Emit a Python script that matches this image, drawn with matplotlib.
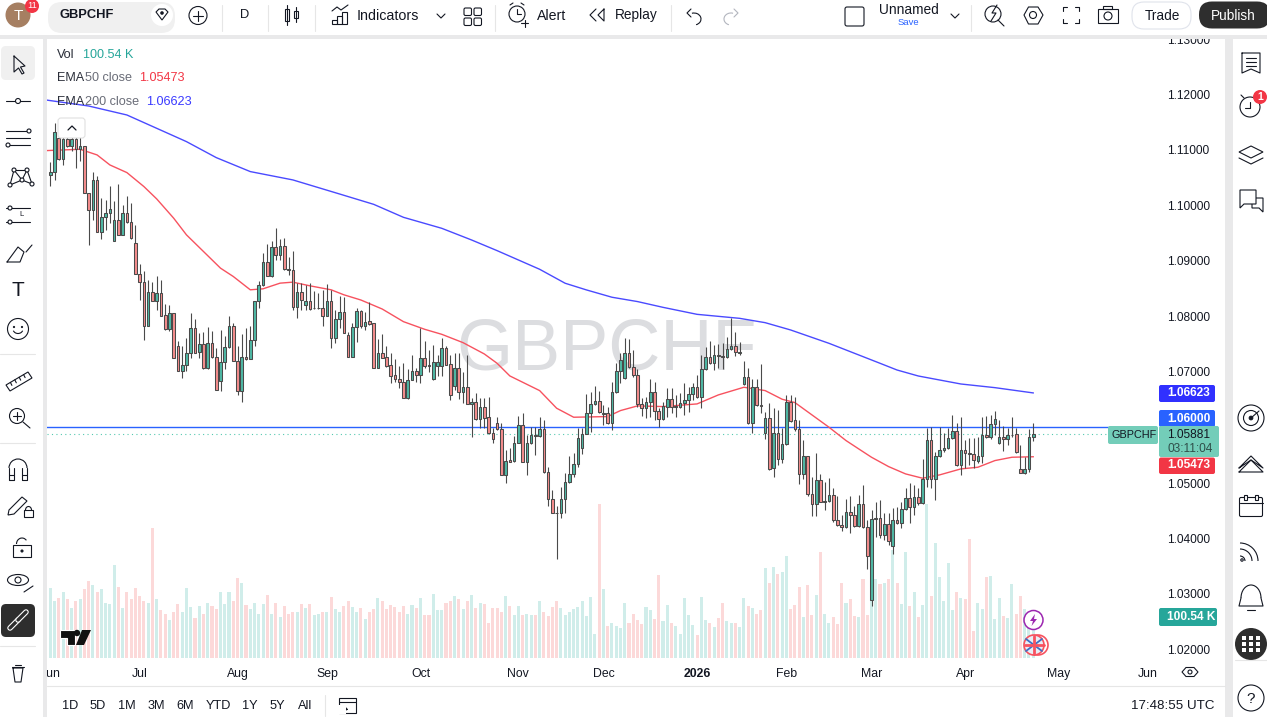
import numpy as np
import matplotlib
matplotlib.use("Agg")
import matplotlib.pyplot as plt
from matplotlib.patches import Rectangle, Circle, FancyBboxPatch, Polygon, Ellipse, Arc

# ---- data: prices are stored as points above 1.00000 (1 point = 0.00001)
highs = [10791,11481,11541,11541,11511,11481,11451,11421,11079,10221,
 10599,10533,10131,10101,10353,10089,10383,10011,10167,10041,
 9651,8949,8817,8661,8613,8721,8661,8229,8211,8061,
 7551,7461,7611,8061,7953,7701,7719,7809,7731,7431,
 7761,7641,8013,7881,7461,7689,7791,7821,8277,8631,
 9141,9309,9369,9591,9393,9411,9069,9177,8601,8601,
 8571,8601,8451,8421,8481,8583,8481,8121,8373,8349,
 7727,7889,8147,8117,8087,8267,7877,7589,7685,7469,
 7349,7229,7109,7157,7049,7307,7067,7787,7559,7397,
 7487,7307,7607,7469,7307,7337,7337,7007,7307,6527,
 6617,6527,6527,6545,5987,6197,6077,5597,5627,5849,
 6209,6257,5867,6017,6017,6185,6137,5285,4877,4577,
 4925,5177,5489,5537,5987,5987,6599,6635,6749,6665,
 6407,6377,6827,7157,7337,7607,7589,7397,7055,6527,
 6557,6869,6827,6347,6467,6707,6707,6587,6617,6797,
 6725,6797,6947,7307,7445,7565,7487,7499,7517,7625,
 7967,7727,7535,7199,7067,6869,6869,7145,6287,6437,
 6347,6317,5987,6587,6587,6545,6137,5777,5489,5117,
 5537,5165,5027,5099,4907,4769,4427,4709,4757,4577,
 4787,4967,4337,4516,4666,4696,4456,4456,4546,4564,
 4666,4906,4996,4966,4906,5428,5986,6004,5566,6004,
 5896,5986,6226,6076,6196,5776,5806,5806,5824,6196,
 6208,6226,6298,6136,6028,5986,6184,5986,5686,5464,
 5968,6076]
lows = [10353,10461,10821,10731,11049,10989,10683,10809,10221,9291,
 9741,9519,9405,9561,9681,9357,9465,9465,9681,9393,
 8763,8289,7569,7827,8271,8121,8001,7749,7731,7251,
 7011,6891,7011,7251,7341,7251,7053,7053,7257,6675,
 6651,7053,7431,7197,6585,6459,7221,7233,7461,8151,
 8541,8727,8703,9021,9021,8841,8751,8121,7971,8121,
 8121,8121,8133,8139,7821,8001,7431,7521,7791,7701,
 7277,7277,7547,7787,7757,7847,7079,7079,7247,7097,
 6797,6827,6707,6539,6515,6851,6827,6797,7079,7007,
 6857,6929,6929,7127,6497,6677,6515,6437,6419,5825,
 6137,5987,5987,5885,5729,5957,5141,5009,5381,5381,
 5729,5375,5147,5705,5507,5825,5189,4577,4457,3629,
 4367,4457,4997,5117,5297,5525,5879,5927,6407,6257,
 6047,6059,5957,6617,6797,6875,7067,6905,6365,6209,
 6167,6197,6137,6017,6137,6197,6257,6197,6347,6227,
 6287,6497,6539,6347,7037,7145,7037,7067,7049,7247,
 7397,7295,7307,6767,6065,5897,6389,6257,5789,5237,
 5117,5327,5357,5687,6107,5945,4979,5069,4757,4397,
 4397,4655,4517,4655,4289,4229,4127,4187,4097,4205,
 4205,4187,3449,2776,4036,4006,3976,3886,3718,4264,
 4198,4516,4276,4426,4606,4624,4936,4906,4696,5464,
 5566,5608,5788,5308,5140,5266,5326,5266,5356,5368,
 5806,5800,5866,5704,5578,5686,5836,5548,5176,5164,
 5206,5764]
body_tops = [10599,11319,11223,11193,11193,11193,11193,11079,11079,10221,
 10455,10455,9789,9861,9933,9735,9735,9861,9861,9699,
 9321,8763,8619,8445,8445,8427,8427,8025,8061,8061,
 7467,7125,7341,7791,7791,7503,7503,7521,7521,7269,
 7179,7449,7827,7827,7197,7269,7269,7575,8277,8565,
 8979,8979,9249,9249,9267,9267,8853,8835,8445,8445,
 8283,8277,8157,8157,8151,8277,8277,7953,8079,8079,
 7667,7817,8093,8093,7907,7913,7877,7337,7337,7265,
 7127,6941,6881,6827,6857,7013,7013,7247,7247,7127,
 7175,7175,7427,7427,7139,7067,7067,6725,6725,6455,
 6455,6377,6377,6185,5897,6077,5969,5405,5411,5729,
 6041,6041,5717,5861,5867,5981,5981,5207,4709,4463,
 4709,5015,5159,5339,5807,5879,6257,6419,6473,6473,
 6263,6257,6635,7013,7211,7337,7337,7085,6941,6419,
 6455,6635,6635,6293,6383,6509,6509,6383,6437,6491,
 6599,6725,6725,7049,7265,7265,7301,7301,7289,7409,
 7463,7463,7361,6905,6905,6725,6725,6401,6167,6167,
 5897,5897,5699,6455,6455,6131,5969,5483,5483,4799,
 5051,5051,4673,4781,4781,4331,4241,4475,4475,4421,
 4619,4619,4205,4348,4366,4366,4258,4258,4330,4330,
 4528,4726,4726,4744,4744,5068,5770,5770,5482,5590,
 5626,5806,5932,5932,5590,5590,5536,5518,5482,5860,
 5860,6058,6148,5824,5824,5860,5872,5878,5248,5248,
 5824,5878]
body_bottoms = [10557,10599,10833,10833,11079,11079,11019,11019,10221,9915,
 9915,9519,9519,9789,9861,9357,9465,9465,9699,9411,
 8763,8619,7827,7827,8271,8271,8013,7773,7773,7251,
 7017,7017,7125,7341,7341,7359,7071,7071,7269,6675,
 6837,7179,7449,7197,6657,6657,7233,7233,7575,8277,
 8565,8727,8727,9105,9105,8853,8835,8169,8169,8289,
 8205,8133,8145,8145,8001,8001,7611,7611,7953,7701,
 7277,7277,7817,7835,7835,7871,7079,7079,7259,7115,
 6935,6881,6827,6539,6539,6851,6953,6953,7115,7115,
 6869,7115,7115,7133,6593,6755,6647,6647,6419,6419,
 6161,6161,6179,5897,5789,5969,5141,5141,5387,5393,
 5729,5375,5375,5717,5849,5843,5207,4709,4457,4451,
 4457,4709,5015,5159,5339,5627,5879,6257,6419,6275,
 6251,6089,6089,6635,7013,6887,7085,6941,6419,6347,
 6347,6455,6293,6149,6149,6365,6365,6371,6377,6437,
 6491,6599,6557,6557,7049,7157,7157,7283,7277,7265,
 7409,7355,7349,6779,6089,6089,6401,6383,5897,5255,
 5267,5429,5429,5699,6125,5969,5159,5159,4799,4619,
 4619,4655,4655,4673,4325,4235,4205,4205,4421,4223,
 4223,4205,3683,2896,4354,4060,4060,3952,3862,4288,
 4288,4528,4564,4564,4636,4636,5068,5068,5068,5482,
 5590,5626,5806,5320,5320,5536,5524,5410,5392,5482,
 5824,5824,6058,5716,5788,5788,5860,5560,5176,5176,
 5248,5824]
directions = ("UUDUDUDUDD" "UDUUUUDUDD" "DDDUDUDDUD" "DUUUDUDUDD" "UUUDDUDUUU"
 "UDUDUDDDUD" "UDUUDUDUUD" "DUUDUDDUDD" "DDDDUUDUDD" "UUUDDUDUDU"
 "DUDDDDDUDU" "UDUUDUDDDD" "UUUUUUUUUD" "UDUUUUDDDD" "UUDDUUDUUU"
 "UUDUUDUDDU" "UDUUDUDDUD" "UDUUDDDUDD" "UDUUDDDUDD" "UDDUUDUDUD"
 "UUDUDUUDUU" "UUUDUDDDUU" "DUUUDUUDDU" "UU")
volumes_k = [172,141,148,163,144,123,139,144,168,190,
 178,161,168,136,132,227,173,123,161,144,
 171,151,139,136,318,144,117,109,92,112,
 132,114,171,124,97,127,107,134,127,119,
 163,132,163,139,195,183,129,119,136,109,
 132,154,109,134,100,127,107,114,114,132,
 122,132,105,109,112,114,149,119,114,127,
 141,124,114,122,95,112,119,146,141,119,
 129,124,114,127,107,129,122,146,105,105,
 158,117,117,134,141,151,144,119,139,154,
 122,136,132,87,122,122,112,151,127,105,
 127,105,107,105,105,141,112,102,124,141,
 122,105,112,119,124,139,102,149,60,378,
 168,78,85,78,73,136,85,107,92,83,
 124,117,95,203,90,129,85,78,60,146,
 105,80,56,149,92,85,75,97,136,90,
 87,87,75,146,127,122,109,117,220,183,
 222,205,212,249,119,129,173,100,178,105,
 154,259,109,87,100,83,185,136,144,102,
 100,193,105,223,193,181,183,193,264,183,
 132,259,127,161,100,129,378,151,283,198,
 141,232,117,161,146,144,291,65,134,119,
 198,200,95,146,102,97,181,109,151,119,
 109,100.54]
ema50_idx = [-1,7,11,14,18,22,25,29,32,36,40,43,47,50,54,57,61,66,69,73,78,83,88,92,97,102,105,108,115,119,123,
 131,134,138,144,152,157,163,168,172,175,179,183,187,190,193,197,201,205,209,214,218,222,226,231]
ema50_pts = [10989,11013,10911,10731,10593,10341,10119,9771,9471,9171,8871,8721,8481,8499,8601,8619,8553,8481,8391,8297,8135,7907,7769,7679,7529,7325,7157,6929,6665,6347,6185,
 6197,6305,6389,6377,6425,6587,6725,6665,6509,6449,6227,6005,5765,5614,5464,5296,5164,5086,5146,5254,5284,5404,5464,5473]
ema200_idx = [-1,9,18,25,32,39,47,57,68,76,83,92,99,105,115,121,126,132,138,144,152,162,168,174,183,195,199,204,214,222,231]
ema200_pts = [11901,11793,11631,11391,11151,10863,10611,10461,10207,10021,9787,9589,9379,9187,8851,8599,8479,8347,8269,8165,8039,7967,7889,7757,7517,7157,7036,6928,6784,6718,6623]
price_ticks = [1.13,1.12,1.11,1.10,1.09,1.08,1.07,1.05,1.04,1.03,1.02]
month_ticks = [0,21,44,65,87,110,130,152,173,193,215,237,258]
month_labels = ["Jun","Jul","Aug","Sep","Oct","Nov","Dec","2026","Feb","Mar","Apr","May","Jun"]
level_price = 1.06
last_price = 1.05881
range_buttons = ["1D","5D","1M","3M","6M","YTD","1Y","5Y","All"]

FONT = ["Liberation Sans", "DejaVu Sans"]
plt.rcParams["font.family"] = FONT
W, H = 1267, 717
DARK = "#131722"
fig = plt.figure(figsize=(W/100, H/100), dpi=100, facecolor="white")

def rect(x0, y0, x1, y1):
    return [x0/W, 1-y1/H, (x1-x0)/W, (y1-y0)/H]

L, R, T, B = 47, 1160, 38, 658
xlim = ((L-50.3)/4.255, (R-50.3)/4.255)
price = lambda pts: 1 + np.asarray(pts, float)/1e5
ylim = (1.13-(B-39)/5550, 1.13-(T-39)/5550)

# volume pane sits behind the price pane
axv = fig.add_axes(rect(L, T, R, B), zorder=0.5)
axv.set_xlim(xlim)
axv.set_ylim(0, (B-T)/(41/100.54))
axv.set_xticks([]); axv.set_yticks([])
for s in axv.spines.values():
    s.set_visible(False)

ax = fig.add_axes(rect(L, T, R, B), zorder=1)
ax.patch.set_visible(False)
ax.set_xlim(xlim); ax.set_ylim(ylim)
for s in ax.spines.values():
    s.set_visible(False)
ax.yaxis.tick_right()
ax.set_yticks(price_ticks)
ax.set_yticklabels([f"{p:.5f}" for p in price_ticks], fontsize=8.6, color=DARK)
ax.tick_params(axis="y", length=0, pad=5)
ax.set_xticks(month_ticks)
ax.set_xticklabels(month_labels, fontsize=8.8, color=DARK)
ax.tick_params(axis="x", length=0, pad=7)
ax.get_xticklabels()[7].set_fontweight("bold")

axv.text(0.503, 0.495, "GBPCHF", transform=axv.transAxes, ha="center", va="center",
         fontsize=52, color="#dcdde0", zorder=0)

idx = np.arange(len(highs))
up = np.array([d == "U" for d in directions])
axv.bar(idx, volumes_k, width=0.72, linewidth=0,
        color=np.where(up, "#d0edea", "#fcd9d9"))

ax.plot([xlim[0], (1108-50.3)/4.255], [level_price]*2, color="#2962ff", lw=1.0, zorder=2, snap=True)
ax.plot([xlim[0], (1108-50.3)/4.255], [last_price]*2, color="#55c9b0", lw=0.8,
        ls=(0, (1, 3)), zorder=2)
ax.plot(ema200_idx, price(ema200_pts), color="#4a4aff", lw=1.0, zorder=3)
ax.plot(ema50_idx, price(ema50_pts), color="#f7525f", lw=1.0, zorder=3)
ax.vlines(idx, price(lows), price(highs), color="#4a4a4a", lw=0.8, zorder=4)
ax.bar(idx, price(body_tops)-price(body_bottoms), bottom=price(body_bottoms), width=0.62,
       color=np.where(up, "#4fb8a4", "#f58d8d"), edgecolor="#4a4a4a", linewidth=0.75, zorder=5)

# ---- application chrome, in screen pixels
ui = fig.add_axes([0, 0, 1, 1], zorder=2)
ui.set_xlim(0, W); ui.set_ylim(H, 0); ui.axis("off"); ui.patch.set_alpha(0)
GREY = "#e9e9ea"
def box(x0, y0, x1, y1, c, z=1, **k):
    ui.add_patch(Rectangle((x0, y0), x1-x0, y1-y0, fc=c, ec="none", zorder=z, **k))
def pill(x0, y0, x1, y1, c, r=6, ec="none", z=2, lw=1):
    ui.add_patch(FancyBboxPatch((x0+r, y0+r), x1-x0-2*r, y1-y0-2*r,
                 boxstyle=f"round,pad={r},rounding_size={r}", fc=c, ec=ec, lw=lw, zorder=z))
def txt(x, y, s, size=9.2, c=DARK, ha="left", w="normal", z=6):
    ui.text(x, y+1, s, fontsize=size, color=c, ha=ha, va="center", fontweight=w, zorder=z)
def ln(xs, ys, c=DARK, lw=0.8, z=5):
    ui.plot(xs, ys, color=c, lw=lw, zorder=z, solid_capstyle="round", solid_joinstyle="round")
def circ(x, y, r, fc="none", ec=DARK, lw=0.8, z=5):
    ui.add_patch(Circle((x, y), r, fc=fc, ec=ec, lw=lw, zorder=z))
def rbox(x0, y0, x1, y1, ec=DARK, fc="none", lw=0.8, z=5):
    ui.add_patch(Rectangle((x0, y0), x1-x0, y1-y0, fc=fc, ec=ec, lw=lw, zorder=z))
def arc(x, y, w, h, t1, t2, c=DARK, lw=0.8):
    ui.add_patch(Arc((x, y), w, h, theta1=t1, theta2=t2, ec=c, lw=lw, zorder=5))
def poly(pts, fc="none", ec=DARK, lw=0.8, z=5):
    ui.add_patch(Polygon(pts, fc=fc, ec=ec, lw=lw, zorder=z))

# frames
box(0, 0, W, 35, "white"); box(0, 35, W, 38.5, GREY)
box(0, 38.5, 43, H, "white"); box(43, 35, 47, H, GREY)
box(1225, 35, 1233, H, GREY); box(1233, 38.5, W, H, "white")
ln([47, 1225], [686, 686], "#e6e6e6", 0.8, 2)

# top bar
circ(18, 15, 12.5, "#a67f62", "none", 0); txt(18, 15, "T", 11, "white", "center")
circ(32, 6, 7, "#f23645", "none", 0, 6); txt(32, 5, "11", 6.8, "white", "center", z=7)
pill(48, 2, 175, 33, "#f0f0f0", 14)
txt(60, 14.5, "GBPCHF", 9.3, DARK, w="bold")
circ(162, 15, 11, "white", "none", 0)
poly([[156, 12], [159, 9], [165, 9], [168, 12], [162, 20]], fc="white")
circ(162, 13, 1.8, DARK, "none", 0)
circ(198, 15.5, 9); ln([193, 203], [15.5, 15.5]); ln([198, 198], [10.5, 20.5])
for x in (222, 268, 315, 495, 671, 971):
    ln([x, x], [5, 31], "#e6e6e6", 0.8)
txt(245, 14.5, "D", 9.3, DARK, "center")
rbox(285, 9, 289, 21); ln([287, 287], [5, 25])
rbox(294, 11, 298, 18); ln([296, 296], [7, 22])
for x0, h in ((332, 4), (337, 8), (342, 12)):
    rbox(x0, 24-h, x0+5, 24)
ln([332, 337, 341, 348], [11, 7, 10, 5])
txt(357, 14.5, "Indicators", 10.3)
ln([437, 441, 445], [14, 18, 14])
for x0, y0 in ((464, 8), (474, 8), (464, 18), (474, 18)):
    ui.add_patch(FancyBboxPatch((x0+1.5, y0+1.5), 4.5, 4.5, boxstyle="round,pad=1.5", fc="none", ec=DARK, lw=0.8, zorder=5))
circ(517, 14, 8); ln([517, 517, 521], [9, 14, 14]); ln([510, 513], [5, 3]); ln([524, 521], [5, 3])
ln([521, 528], [23, 23]); ln([524.5, 524.5], [19.5, 26.5])
txt(537, 14.5, "Alert", 10.2)
ln([596, 590, 596], [9, 15, 21]); ln([604, 598, 604, 604], [9, 15, 21, 9])
txt(615, 14.5, "Replay", 9.8)
arc(694, 19, 14, 12, 250, 430)
ln([691, 687, 691], [9, 13, 17])
arc(731, 19, 14, 12, 110, 290, "#b2b5be")
ln([734, 738, 734], [9, 13, 17], "#b2b5be")
ui.add_patch(FancyBboxPatch((847, 9), 15, 15, boxstyle="round,pad=2", fc="none", ec=DARK, lw=0.8, zorder=5))
txt(879, 9.5, "Unnamed", 9.9)
txt(908, 21.5, "Save", 6.8, "#2962ff", "center")
ln([951, 955, 959], [14, 18, 14])
circ(993, 14, 8); ln([998, 1004], [20, 26]); ln([997, 992, 996, 991], [5, 13, 13, 21])
poly([[1024, 15], [1028.5, 7], [1038, 7], [1043, 15], [1038, 24], [1028.5, 24]])
circ(1033, 15, 3.5)
for sx, sy in ((-1, -1), (1, -1), (-1, 1), (1, 1)):
    cx, cy = 1071+sx*8, 15+sy*8
    ln([cx, cx, cx-sx*4], [cy-sy*4, cy, cy])
rbox(1098, 9, 1118, 23); rbox(1103, 6, 1112, 9); circ(1108, 16, 4)
pill(1132, 2, 1191, 29, "white", 12, "#e0e3eb", 2, 0.8)
txt(1162, 14.5, "Trade", 9.8, DARK, "center")
pill(1199, 1.5, 1270, 28.5, "#2e2e2e", 13)
txt(1233, 14.5, "Publish", 9.8, "white", "center")

# legend
pill(1, 46, 35, 80, "#f0f0f0", 5, z=1)
txt(57, 54, "Vol", 9.1, "#2a2e39"); txt(83, 54, "100.54 K", 9.1, "#26a69a")
txt(57, 77, "EMA", 9.1, "#2a2e39"); txt(85, 77, "50 close", 9.1, "#6a6d78"); txt(139, 77, "1.05473", 9.1, "#f23645")
txt(57, 101, "EMA", 9.1, "#2a2e39"); txt(85, 101, "200 close", 9.1, "#6a6d78"); txt(146, 101, "1.06623", 9.1, "#3a3aff")
pill(58, 118, 85, 138, "white", 3, "#e0e0e0", 4, 0.8)
ln([68, 72, 76], [130, 126, 130], DARK, 0.9)

# left toolbar
ln([14, 14, 18.5, 22, 24, 20.5, 25, 14], [56, 72, 68, 74, 73, 67, 66, 56])
ln([6, 30], [101, 101]); circ(18, 101, 2.5, "white")
for y in (131, 138, 145):
    ln([6, 30], [y, y])
circ(29, 131, 2, "white"); circ(8, 145, 2, "white")
pts = [(10, 185), (14, 170), (22, 180), (27, 170), (32, 184)]
ln([p[0] for p in pts], [p[1] for p in pts]); ln([14, 27], [170, 170]); ln([10, 22, 32], [185, 180, 184])
for p in pts:
    circ(p[0], p[1], 2, "white")
ln([6, 30], [208, 208]); ln([6, 30], [222, 222])
circ(10, 208, 2, "white"); circ(10, 222, 2, "white"); txt(22, 214, "L", 5.5, DARK, "center")
ln([7, 18, 24, 20, 7], [262, 247, 252, 262, 262]); ln([26, 32], [252, 245])
txt(18, 290, "T", 15, DARK, "center")
circ(18, 329, 10.5); circ(14, 327, 1.1, DARK, "none", 0); circ(22, 327, 1.1, DARK, "none", 0)
arc(18, 329, 10, 9, 20, 160)
for y in (354, 443, 646):
    ln([0, 35], [y, y], "#e6e6e6", 0.8)
poly([[6, 385], [28, 372], [32, 378], [10, 391]])
for t in (0.2, 0.4, 0.6, 0.8):
    ln([6+22*t, 7.5+22*t], [385-13*t, 388-13*t])
circ(17, 416, 7.5); ln([13, 21], [416, 416]); ln([17, 17], [412, 420]); ln([23, 30], [422, 428])
arc(18, 468, 18, 18, 180, 360)
ln([9, 9, 14, 14], [468, 480, 480, 468]); ln([22, 22, 27, 27], [468, 480, 480, 468]); ln([9, 14], [475, 475]); ln([22, 27], [475, 475])
poly([[9, 510], [22, 497], [27, 501], [14, 514], [8, 515]])
rbox(24, 510, 33, 517); arc(28.5, 510, 6, 7, 180, 360)
rbox(13, 545, 31, 557); arc(22, 544, 11, 12, 180, 320); circ(22, 551, 1, DARK)
ui.add_patch(Ellipse((18, 580), 21, 11, fc="none", ec=DARK, lw=0.8, zorder=5)); circ(18, 580, 3)
ln([24, 33], [592, 586])
pill(1, 604, 35, 637, "#2e2e2e", 5, z=3)
ln([10, 18], [628, 620], "white", 4.0, 5); ln([10, 18], [628, 620], "#2e2e2e", 2.4, 5)
ln([18, 26], [620, 612], "white", 4.0, 6); ln([18, 26], [620, 612], "#2e2e2e", 2.4, 6)
ln([12, 24], [667, 667]); ln([13, 15, 21, 23, 13], [668, 682, 682, 668, 668]); ln([15, 21], [665, 665])

# right toolbar
ln([1242, 1242, 1251, 1260, 1260, 1242], [53, 73, 69, 73, 53, 53])
for y in (58, 62, 66):
    ln([1246, 1256], [y, y])
circ(1250, 107, 10); ln([1250, 1250, 1245], [102, 108, 108]); ln([1241, 1244], [95, 98])
circ(1260, 97, 7, "#f23645", "none", 0, 6); txt(1260, 96, "1", 7.5, "white", "center", "bold", z=7)
poly([[1239, 152], [1251, 146], [1263, 152], [1251, 158]])
ln([1239, 1251, 1263], [158, 164, 158])
poly([[1240, 190], [1256, 190], [1256, 204], [1244, 204], [1240, 208]], fc="white")
poly([[1252, 198], [1263, 198], [1263, 212], [1259, 208], [1252, 208]], fc="white", z=4)
circ(1251, 418, 13); circ(1251, 418, 7.5); circ(1251, 418, 1.8, DARK); ln([1251, 1259], [418, 411])
ln([1239, 1251, 1263, 1251, 1239], [468, 456, 468, 460, 468]); ln([1239, 1263, 1251, 1239], [472, 472, 460, 472])
ui.add_patch(FancyBboxPatch((1241, 499), 20, 16, boxstyle="round,pad=1.5", fc="none", ec=DARK, lw=0.8, zorder=5))
ln([1239.5, 1262.5], [503, 503]); rbox(1244, 495, 1247, 500, fc="white"); rbox(1255, 495, 1258, 500, fc="white")
for r in (5, 12, 18):
    arc(1240, 561, 2*r, 2*r, 270, 360)
circ(1242, 560, 1.2)
arc(1251, 598, 20, 26, 180, 360)
ln([1241, 1239, 1263, 1261], [598, 606, 606, 598]); ln([1247, 1255], [610, 610])
circ(1251, 644, 16, "#2e2e2e", "none", 0)
for dx in (-7, 0, 7):
    for dy in (-6, 0, 6):
        box(1251+dx-2.3, 644+dy-2.3, 1251+dx+2.3, 644+dy+2.3, "white", 6)
ln([1235, 1267], [660, 660], "#e6e6e6", 0.8)
circ(1251, 698, 13); txt(1251, 698, "?", 11, DARK, "center")

# price labels
def tag(x0, y0, x1, y1, c, r=2):
    pill(x0, y0, x1, y1, c, r, z=3)
tag(1159, 385, 1215, 402, "#3030ff"); txt(1167, 392.5, "1.06623", 8.6, "white", w="bold")
tag(1159, 410, 1215, 427, "#2962ff"); txt(1167, 417.5, "1.06000", 8.6, "white", w="bold")
tag(1108, 426, 1158, 444, "#73cdb9"); txt(1111, 434, "GBPCHF", 7.8, DARK)
tag(1159, 426, 1219, 457, "#73cdb9"); txt(1167, 433.5, "1.05881", 8.6, DARK); txt(1167, 448, "03:11:04", 8.6, "#2f4f4a")
tag(1159, 457.5, 1215, 474, "#f23645"); txt(1167, 464.5, "1.05473", 8.6, "white", w="bold")
tag(1159, 608, 1217, 626, "#26a69a"); txt(1167, 616, "100.54 K", 8.6, "white", w="bold")

# logo and event marks
poly([[60, 630], [75, 630], [75, 645], [67, 645], [67, 638], [60, 638]], fc="#111111", ec="white")
circ(77, 633, 3.2, "#111111", "none", 0)
poly([[82, 630], [91, 630], [84, 645], [76, 645]], fc="#111111", ec="none")
circ(1033.5, 620, 9.5, "white", "#9c27b0", 1.1, 6)
poly([[1035, 614], [1030, 621], [1033, 621], [1031.5, 626], [1037, 619], [1034, 619]], fc="#9c27b0", ec="none", z=7)
circ(1038, 645, 10, "none", "#f7525f", 1.2, 6)
circ(1034, 645, 10, "#e9edf5", "#f7525f", 1.2, 6)
ln([1026, 1042], [639, 651], "#3f6fc4", 1.3, 7); ln([1026, 1042], [651, 639], "#3f6fc4", 1.3, 7)
ln([1024.5, 1043.5], [645, 645], "#f7525f", 2, 8); ln([1034, 1034], [636, 654], "#f7525f", 2, 8)

# time axis controls
for x, s in zip((70, 98, 127, 156, 185, 218, 250, 277, 305), range_buttons):
    txt(x, 705, s, 9.2, DARK, "center")
ln([325, 325], [695, 716], "#e6e6e6", 0.8)
rbox(339, 698, 356, 713); ln([339, 356], [702, 702])
box(335, 705, 346, 714, "white", 5.5)
ln([338, 347], [709, 709]); ln([344, 347, 344], [706, 709, 712])
poly([[1182, 672], [1186, 667.5], [1194, 667.5], [1198, 672], [1194, 676.5], [1186, 676.5]]); circ(1190, 672, 2)
txt(1131, 705, "17:48:55 UTC", 9.6, DARK)

fig.savefig("out.png", dpi=100, facecolor="white")
